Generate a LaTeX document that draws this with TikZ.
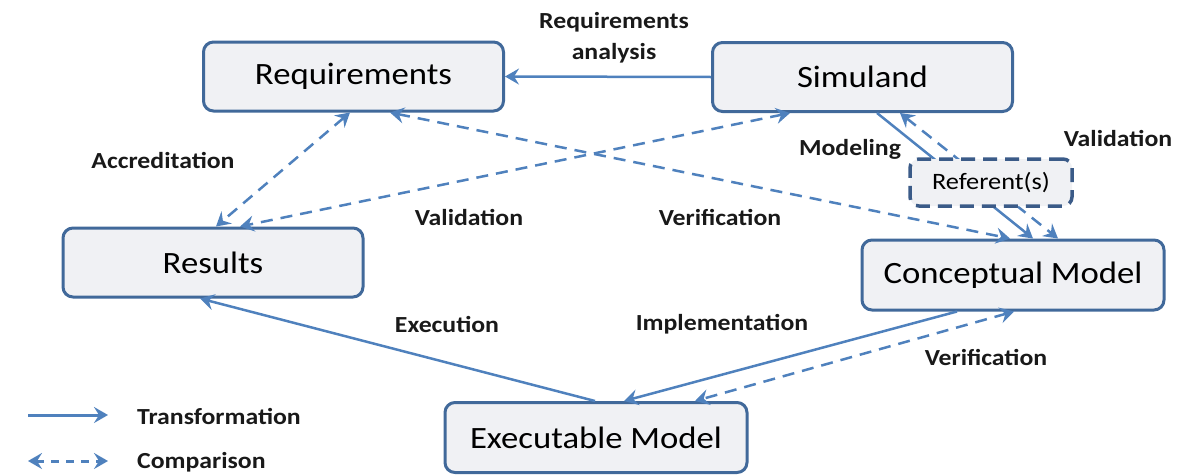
\documentclass[tikz,border=0pt]{standalone}
\usepackage{fontspec}
\setmainfont{Carlito}[FakeStretch=1.12]
\usetikzlibrary{arrows.meta,calc}
\definecolor{lineblue}{HTML}{4F81BD}
\definecolor{boxborder}{HTML}{41699A}
\definecolor{boxfill}{HTML}{F0F1F4}
\definecolor{refborder}{HTML}{3B5B88}
\begin{document}
\begin{tikzpicture}[x=1pt,y=-1pt,
  box/.style={draw=boxborder, line width=3pt, fill=boxfill, rounded corners=10pt,
    minimum width=300pt, minimum height=69pt, inner sep=0pt,
    font=\fontsize{31}{36}\selectfont},
  refbox/.style={draw=refborder, line width=3.5pt, dash pattern=on 14pt off 8pt,
    fill=boxfill, rounded corners=9pt, minimum width=162pt, minimum height=47pt,
    inner sep=0pt, font=\fontsize{23.5}{28}\selectfont},
  trans/.style={draw=lineblue, line width=2.5pt,
    -{Stealth[length=14pt,width=16pt,inset=5pt]}},
  comp/.style={draw=lineblue, line width=2.5pt, dash pattern=on 12pt off 8pt,
    {Stealth[length=14pt,width=16pt,inset=5pt]}-{Stealth[length=14pt,width=16pt,inset=5pt]}},
  lbl/.style={font=\bfseries\fontsize{23}{31}\selectfont, inner sep=0pt, text=black!90}
]
\useasboundingbox (0,0) rectangle (1183,474);

% boxes
\node[box] (req) at (353.5,76.5) {Requirements};
\node[box] (sim) at (862.5,77) {Simuland};
\node[box] (res) at (213,262.5) {Results};
\node[box, minimum width=302pt, minimum height=70pt] (con) at (1013,275) {Conceptual Model};
\node[box, minimum width=302pt, minimum height=70pt] (exe) at (596,437.5) {Executable Model};

% connectors
\draw[trans] (sim.west) -- (req.east);
\draw[comp] ([xshift=-3.5pt]req.south) -- ([xshift=3pt]res.north);
\draw[comp] ([xshift=-72.5pt]sim.south) -- ([xshift=27pt]res.north);
\draw[comp] ([xshift=36.5pt]req.south) -- ([xshift=-3pt]con.north);
\draw[trans] ([xshift=14.5pt]sim.south) -- ([xshift=20pt]con.north);
\draw[comp] ([xshift=37.5pt]sim.south) -- ([xshift=45pt]con.north);
\draw[trans] ([xshift=-1pt]exe.north) -- ([xshift=-13pt]res.south);
\draw[trans] ([xshift=-56pt]con.south) -- ([xshift=28pt]exe.north);
\draw[comp] ([xshift=1pt]con.south) -- ([xshift=99pt]exe.north);

% referent on top of the lines
\node[refbox] (ref) at (991,182.5) {Referent(s)};

% labels
\node[lbl, align=center] (lra) at (614,38) {Requirements\\analysis};
\node[lbl] (lacc) at (163,160) {Accreditation};
\node[lbl] (lval1) at (469,217) {Validation};
\node[lbl] (lver1) at (720,217) {Verification};
\node[lbl] (lmod) at (850,149) {Modeling};
\node[lbl] (lval2) at (1118,138) {Validation};
\node[lbl] (lexe) at (447,324) {Execution};
\node[lbl] (limp) at (722,324) {Implementation};
\node[lbl] (lver2) at (986,357) {Verification};

% legend
\coordinate (t1) at (28,415);
\coordinate (t2) at (108,415);
\draw[trans, line width=3pt] (t1) -- (t2);
\node[lbl, anchor=west] (ltr) at (137,416) {Transformation};
\coordinate (c1) at (28,461);
\coordinate (c2) at (108,461);
\draw[comp, line width=3pt, dash pattern=on 8pt off 7pt] (c1) -- (c2);
\node[lbl, anchor=west] (lcp) at (137,462) {Comparison};
\end{tikzpicture}
\end{document}
